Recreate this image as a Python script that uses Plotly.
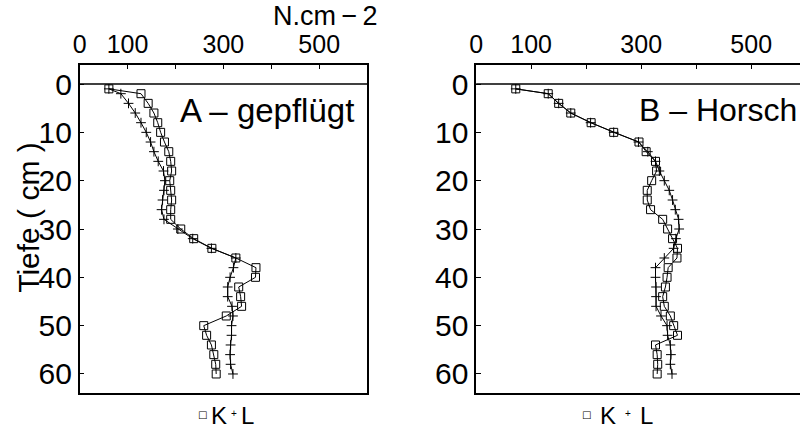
import plotly.graph_objects as go

# Penetration resistance (N/cm^2) against depth (cm), two tillage variants
depth = [1, 2, 4, 6, 8, 10, 12, 14, 16, 18, 20, 22, 24, 26, 28, 30,
         32, 34, 36, 38, 40, 42, 44, 46, 48, 50, 52, 54, 56, 58, 60]

a_k = [61, 128, 143, 155, 163, 169, 177, 186, 190, 192, 188, 190, 192, 190, 190, 211,
       238, 276, 326, 368, 367, 332, 336, 338, 306, 259, 265, 275, 280, 284, 285]
a_l = [61, 86, 102, 116, 128, 139, 148, 155, 164, 175, 178, 176, 173, 171, 176, 205,
       236, 275, 326, 321, 314, 309, 309, 318, 320, 317, 317, 315, 314, 315, 320]

b_k = [72, 131, 150, 172, 209, 250, 296, 309, 326, 328, 319, 311, 311, 317, 339, 348,
       357, 366, 365, 349, 347, 344, 339, 342, 353, 359, 366, 326, 329, 330, 329]
b_l = [72, 131, 150, 172, 208, 250, 295, 312, 326, 333, 342, 351, 357, 362, 368, 369,
       363, 359, 342, 326, 326, 327, 327, 327, 336, 347, 348, 353, 354, 353, 356]

x_tickvals = [0, 100, 200, 300, 400, 500, 600]
x_ticktext = ["0", "100", "", "300", "", "500", ""]
y_tickvals = [0, 10, 20, 30, 40, 50, 60]
y_ticktext = ["0", "10", "20", "30", "40", "50", "60"]

panel_titles = ["A \u2013 gepflügt", "B \u2013 Horsch"]
unit_label = "N.cm\u2009\u2212\u20092"
y_title = "Tiefe ( cm )"

W, H = 800, 431
FONT = "Liberation Sans, Arial, Helvetica, sans-serif"


def px(x):
    return x / W


def py(y):
    return 1 - y / H


fig = go.Figure()

k_style = dict(mode="lines+markers", line=dict(color="black", width=1),
               marker=dict(symbol="square-open", size=8, color="black",
                           line=dict(width=1, color="black")))
l_style = dict(mode="lines+markers", line=dict(color="black", width=1),
               marker=dict(symbol="cross-thin-open", size=7, color="black",
                           line=dict(width=1, color="black")))

fig.add_trace(go.Scatter(x=a_k, y=depth, name="K", xaxis="x", yaxis="y", **k_style))
fig.add_trace(go.Scatter(x=a_l, y=depth, name="L", xaxis="x", yaxis="y", **l_style))
fig.add_trace(go.Scatter(x=b_k, y=depth, name="K", xaxis="x2", yaxis="y2", **k_style))
fig.add_trace(go.Scatter(x=b_l, y=depth, name="L", xaxis="x2", yaxis="y2", **l_style))

y_dom = [1 - 393.3 / H, 1 - 64.7 / H]

xaxis_common = dict(side="top", tickvals=x_tickvals, ticktext=x_ticktext,
                    ticks="inside", ticklen=5, tickwidth=1, tickcolor="black",
                    showline=True, linecolor="black", linewidth=1.5, mirror=True,
                    showgrid=False, zeroline=False,
                    tickfont=dict(family=FONT, size=25, color="black"))
yaxis_common = dict(range=[64, -4], tickvals=y_tickvals, ticktext=y_ticktext,
                    ticks="inside", ticklen=5, tickwidth=1, tickcolor="black",
                    showline=True, linecolor="black", linewidth=1.5,
                    showgrid=False, zeroline=False, domain=y_dom,
                    tickfont=dict(family=FONT, size=30, color="black"))

fig.update_layout(
    width=W, height=H,
    margin=dict(l=0, r=0, t=0, b=0),
    paper_bgcolor="white", plot_bgcolor="white",
    showlegend=False,
    xaxis=dict(domain=[px(73.3), px(363.3)], range=[0, 600], anchor="y", **xaxis_common),
    yaxis=dict(anchor="x", mirror=True, **yaxis_common),
    xaxis2=dict(domain=[px(473.3), 1.0], range=[0, (W - 473.3) / 0.555], anchor="y2",
                **xaxis_common),
    yaxis2=dict(anchor="x2", mirror=False, **yaxis_common),
)

# surface line at depth 0
for xr, yr in [("x domain", "y"), ("x2 domain", "y2")]:
    fig.add_shape(type="line", xref=xr, yref=yr,
                  x0=0, x1=1, y0=0, y1=0, line=dict(color="black", width=1.5))

ann = []
ann.append(dict(text=panel_titles[0], x=px(173), y=py(110), xanchor="left", yanchor="middle",
                font=dict(family=FONT, size=33, color="black")))
ann.append(dict(text=panel_titles[1], x=px(636), y=py(110), xanchor="left", yanchor="middle",
                font=dict(family=FONT, size=32, color="black")))
ann.append(dict(text=unit_label, x=px(321), y=py(16), xanchor="center", yanchor="middle",
                font=dict(family=FONT, size=27, color="black")))
ann.append(dict(text=y_title, x=px(21), y=py(217), xanchor="center", yanchor="middle",
                textangle=-90, font=dict(family=FONT, size=30, color="black")))

# legend row under each panel
for sq_x, k_x, p_x, l_x in [(197, 214, 229, 243), (585, 606, 626, 645)]:
    ann.append(dict(text="\u25a1", x=px(sq_x), y=py(414), xanchor="center", yanchor="middle",
                    font=dict(family="DejaVu Sans", size=10, color="black")))
    ann.append(dict(text="K", x=px(k_x), y=py(415), xanchor="center", yanchor="middle",
                    font=dict(family=FONT, size=24, color="black")))
    ann.append(dict(text="+", x=px(p_x), y=py(413), xanchor="center", yanchor="middle",
                    font=dict(family=FONT, size=10, color="black")))
    ann.append(dict(text="L", x=px(l_x), y=py(415), xanchor="center", yanchor="middle",
                    font=dict(family=FONT, size=24, color="black")))

for a in ann:
    a.update(xref="paper", yref="paper", showarrow=False)
fig.update_layout(annotations=ann)

fig.write_html("out.html")
